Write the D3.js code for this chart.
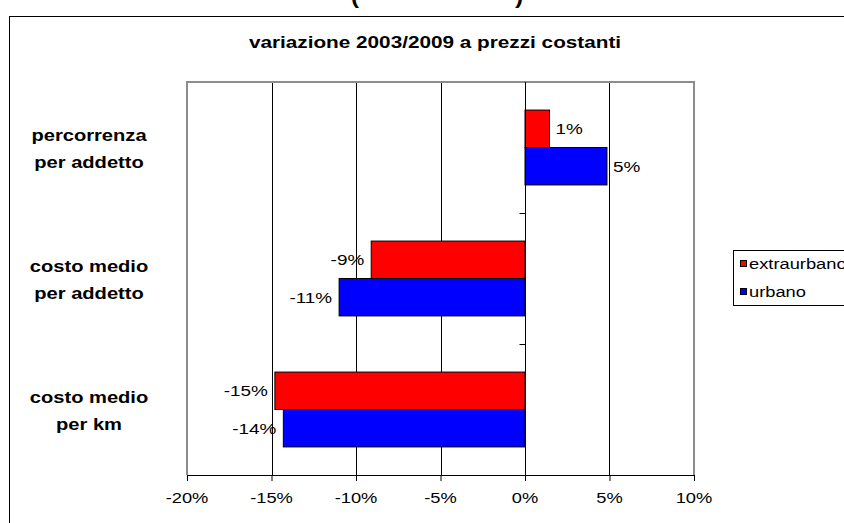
<!DOCTYPE html>
<html>
<head>
<meta charset="utf-8">
<script src="https://cdn.jsdelivr.net/npm/d3@7"></script>
<style>
  html, body { margin: 0; padding: 0; background: #fff; }
  svg { display: block; }
  text { font-family: "Liberation Sans", Arial, sans-serif; fill: #000; }
</style>
</head>
<body>
<svg id="chart" width="844" height="523"></svg>
<script>
// Chart content
const chartTitle = "variazione 2003/2009 a prezzi costanti";
const categories = ["percorrenza per addetto", "costo medio per addetto", "costo medio per km"];
const categoryLines = [["percorrenza", "per addetto"], ["costo medio", "per addetto"], ["costo medio", "per km"]];
const seriesNames = ["extraurbano", "urbano"];
const extraurbano = [0.0145, -0.091, -0.148];
const urbano = [0.0485, -0.110, -0.143];
const xTicks = [-0.20, -0.15, -0.10, -0.05, 0, 0.05, 0.10];

const colors = { extraurbano: "#ff0000", urbano: "#0000ff" };
const SX = 1.22; // horizontal text stretch

const svg = d3.select("#chart");
const plot = { left: 187, right: 694, top: 82, bottom: 475 };

const pct = v => {
  const r = Math.round(v * 100);
  return (r < 0 ? "-" : "") + Math.abs(r) + "%";
};

function addText(sel, x, y, str, opts = {}) {
  return sel.append("text")
    .attr("transform", `translate(${x},${y}) scale(${SX},1)`)
    .attr("text-anchor", opts.anchor || "middle")
    .attr("font-size", opts.size || 15)
    .attr("font-weight", opts.weight || "normal")
    .text(str);
}

// Heading fragment above the chart frame
addText(svg, 355, 4, "(", { size: 20, weight: "bold" });
addText(svg, 519, 4, ")", { size: 20, weight: "bold" });

// Chart frame
svg.append("rect")
  .attr("x", 9.5).attr("y", 16.5)
  .attr("width", 900).attr("height", 600)
  .attr("fill", "#fff").attr("stroke", "#000").attr("stroke-width", 1);

// Title
addText(svg, 435, 48, chartTitle, { size: 17, weight: "bold" });

const x = d3.scaleLinear().domain([-0.20, 0.10]).range([plot.left, plot.right]);
const y0 = d3.scaleBand().domain(categories).range([plot.top, plot.bottom]).paddingInner(0).paddingOuter(0);
const barH = y0.bandwidth() / 3.5;
const gap = (y0.bandwidth() - 2 * barH) / 2;
const y1 = d3.scaleBand().domain(seriesNames).range([gap, gap + 2 * barH]).padding(0);

// Gridlines
svg.append("g").selectAll("line")
  .data(xTicks.slice(1, -1))
  .join("line")
  .attr("x1", d => Math.round(x(d)) + 0.5).attr("x2", d => Math.round(x(d)) + 0.5)
  .attr("y1", plot.top).attr("y2", plot.bottom)
  .attr("stroke", "#000").attr("stroke-width", 1);

// Plot area border (left, top, right)
svg.append("path")
  .attr("d", `M${plot.left},${plot.bottom} V${plot.top} H${plot.right} V${plot.bottom}`)
  .attr("fill", "none").attr("stroke", "#8c8c8c").attr("stroke-width", 2);

// Bars
const rows = categories.map((c, i) => ({ cat: c, values: [
  { key: "extraurbano", v: extraurbano[i] },
  { key: "urbano", v: urbano[i] }
]}));

const groups = svg.append("g").selectAll("g")
  .data(rows).join("g")
  .attr("transform", d => `translate(0,${y0(d.cat)})`);

groups.selectAll("rect")
  .data(d => d.values).join("rect")
  .attr("x", d => x(Math.min(0, d.v)))
  .attr("y", d => y1(d.key))
  .attr("width", d => Math.abs(x(d.v) - x(0)))
  .attr("height", y1.bandwidth())
  .attr("fill", d => colors[d.key])
  .attr("stroke", "#000").attr("stroke-width", 1);

groups.each(function(d) {
  const g = d3.select(this);
  d.values.forEach(s => {
    const yy = y1(s.key) + y1.bandwidth() / 2 + 5.5;
    if (s.v >= 0) addText(g, x(s.v) + 6, yy, pct(s.v), { anchor: "start", size: 15.5 });
    else addText(g, x(s.v) - 7, yy, pct(s.v), { anchor: "end", size: 15.5 });
  });
});

// Category axis at zero
const xz = Math.round(x(0)) + 0.5;
svg.append("line")
  .attr("x1", xz).attr("x2", xz).attr("y1", plot.top).attr("y2", plot.bottom)
  .attr("stroke", "#000");
svg.append("g").selectAll("line")
  .data(categories.map(c => y0(c)).slice(1).concat([plot.bottom]))
  .join("line")
  .attr("x1", xz - 6).attr("x2", xz)
  .attr("y1", d => Math.round(d) + 0.5).attr("y2", d => Math.round(d) + 0.5)
  .attr("stroke", "#000");

// Category labels
categories.forEach((c, i) => {
  const cy = y0(c) + y0.bandwidth() / 2;
  categoryLines[i].forEach((line, j) => {
    addText(svg, 89, cy - 13.5 + j * 27 + 6.5, line, { size: 16.5, weight: "bold" });
  });
});

// Value axis
const xAxis = d3.axisBottom(x).tickValues(xTicks).tickSize(6).tickFormat(pct);
const ax = svg.append("g").attr("transform", `translate(0,${plot.bottom})`).call(xAxis);
ax.select(".domain").attr("stroke", "#000").attr("d", `M${plot.left},0.5H${plot.right}`);
ax.selectAll(".tick line").attr("stroke", "#000");
ax.selectAll(".tick text").remove();
xTicks.forEach(t => addText(svg, x(t), 503, pct(t), { size: 15 }));

// Legend
const leg = svg.append("g");
leg.append("rect")
  .attr("x", 733.5).attr("y", 250.5).attr("width", 130).attr("height", 55)
  .attr("fill", "#fff").attr("stroke", "#000");
seriesNames.forEach((s, i) => {
  const ly = 263.5 + i * 28;
  leg.append("rect")
    .attr("x", 740.5).attr("y", ly - 3).attr("width", 6).attr("height", 6)
    .attr("fill", colors[s]).attr("stroke", "#000");
  addText(leg, 749, ly + 5, s, { anchor: "start", size: 15 });
});
</script>
</body>
</html>
